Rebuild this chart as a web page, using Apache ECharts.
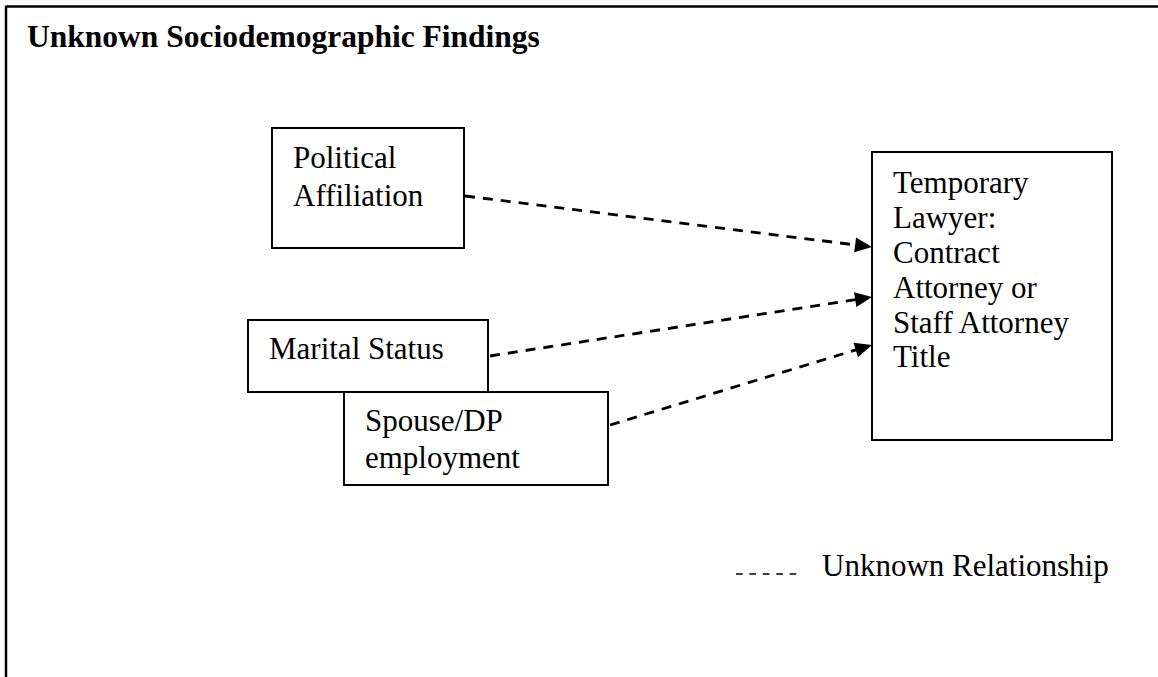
<!DOCTYPE html>
<html>
<head>
<meta charset="utf-8">
<title>Unknown Sociodemographic Findings</title>
<script src="https://cdn.jsdelivr.net/npm/echarts@6/dist/echarts.min.js"></script>
<style>
    html, body { margin: 0; padding: 0; background: #fff; }
    #main { width: 1158px; height: 677px; }
</style>
</head>
<body>
<div id="main"></div>
<script>
    // box labels (one entry per line of text)
    var boxLabels = [
        ['Political', 'Affiliation'],
        ['Marital Status'],
        ['Spouse/DP', 'employment'],
        ['Temporary', 'Lawyer:', 'Contract', 'Attorney or', 'Staff Attorney', 'Title']
    ];
    // box corners in diagram units [x0, y0, x1, y1]
    var boxCorners = [
        [272, 128, 464, 248],
        [248, 320, 488, 392],
        [344, 392, 608, 485],
        [872, 152, 1112, 440]
    ];
    // dashed links: from box index -> to box index, start and end points
    var linkFrom = [0, 1, 2];
    var linkTo = [3, 3, 3];
    var linkPoints = [
        [465, 196, 872, 247],
        [490, 356, 872, 297],
        [610, 425, 872, 345]
    ];
    var titleText = 'Unknown Sociodemographic Findings';
    var legendText = 'Unknown Relationship';
    var legendKey = [736, 797, 574];
    var framePoints = [[6, 677], [6, 6.5], [1158, 6.5]];

    var FONT = '"Liberation Serif", "Times New Roman", serif';
    var textSize = 31;
    // text layout inside each box: first baseline below top, line gap
    var firstLine = [40, 39.5, 39.5, 41.5];
    var lineGap = [38.4, 36, 36.3, 34.8];

    var chart = echarts.init(document.getElementById('main'), null, { renderer: 'svg' });

    function boxItem(params, api) {
        var i = params.dataIndex;
        var c = boxCorners[i];
        var p0 = api.coord([c[0], c[1]]);
        var p1 = api.coord([c[2], c[3]]);
        var children = [{
            type: 'rect',
            shape: { x: p0[0], y: p0[1], width: p1[0] - p0[0], height: p1[1] - p0[1] },
            style: { fill: '#fff', stroke: '#000', lineWidth: 2 }
        }];
        boxLabels[i].forEach(function (line, k) {
            var base = api.coord([c[0] + 21, c[1] + firstLine[i] + k * lineGap[i]]);
            children.push({
                type: 'text',
                style: {
                    text: line, x: base[0], y: base[1] - textSize * 0.34,
                    font: textSize + 'px ' + FONT, fill: '#000',
                    align: 'left', verticalAlign: 'middle'
                }
            });
        });
        return { type: 'group', children: children };
    }

    function linkItem(params, api) {
        var l = linkPoints[params.dataIndex];
        var a = api.coord([l[0], l[1]]);
        var b = api.coord([l[2], l[3]]);
        var dx = b[0] - a[0], dy = b[1] - a[1];
        var len = Math.sqrt(dx * dx + dy * dy);
        var ux = dx / len, uy = dy / len;
        var headL = 17, headW = 7.5;
        var bx = b[0] - ux * headL, by = b[1] - uy * headL;
        return {
            type: 'group',
            children: [{
                type: 'line',
                shape: { x1: a[0], y1: a[1], x2: bx + ux * 2, y2: by + uy * 2 },
                style: { stroke: '#000', lineWidth: 2.8, lineDash: [10, 8] }
            }, {
                type: 'polygon',
                shape: { points: [[b[0], b[1]], [bx - uy * headW, by + ux * headW], [bx + uy * headW, by - ux * headW]] },
                style: { fill: '#000' }
            }]
        };
    }

    function keyItem(params, api) {
        var a = api.coord([legendKey[0], legendKey[2]]);
        var b = api.coord([legendKey[1], legendKey[2]]);
        var t = api.coord([822, 576]);
        return {
            type: 'group',
            children: [{
                type: 'line',
                shape: { x1: a[0], y1: a[1], x2: b[0], y2: b[1] },
                style: { stroke: '#000', lineWidth: 1.6, lineDash: [6.7, 6.7] }
            }, {
                type: 'text',
                style: {
                    text: legendText, x: t[0], y: t[1] - textSize * 0.34,
                    font: textSize + 'px ' + FONT, fill: '#000', verticalAlign: 'middle'
                }
            }]
        };
    }

    var option = {
        backgroundColor: '#fff',
        animation: false,
        title: {
            text: titleText,
            left: 27, top: 20, padding: 0,
            textStyle: { fontFamily: FONT, fontWeight: 'bold', fontSize: 31.5, color: '#000' }
        },
        grid: { left: 0, right: 0, top: 0, bottom: 0 },
        xAxis: { type: 'value', min: 0, max: 1158, show: false },
        yAxis: { type: 'value', min: 0, max: 677, inverse: true, show: false },
        series: [{
            type: 'line',
            data: framePoints,
            symbol: 'none',
            silent: true,
            lineStyle: { color: '#000', width: 2.5 }
        }, {
            type: 'custom',
            name: 'links',
            renderItem: linkItem,
            data: linkPoints.map(function (l, i) { return [l[0], l[1], l[2], l[3], linkFrom[i], linkTo[i]]; }),
            silent: true
        }, {
            type: 'custom',
            name: 'boxes',
            renderItem: boxItem,
            data: boxCorners.map(function (c, i) { return [c[0], c[1], c[2], c[3], i]; }),
            silent: true
        }, {
            type: 'custom',
            name: legendText,
            renderItem: keyItem,
            data: [legendKey],
            silent: true
        }]
    };
    chart.setOption(option);
</script>
</body>
</html>
